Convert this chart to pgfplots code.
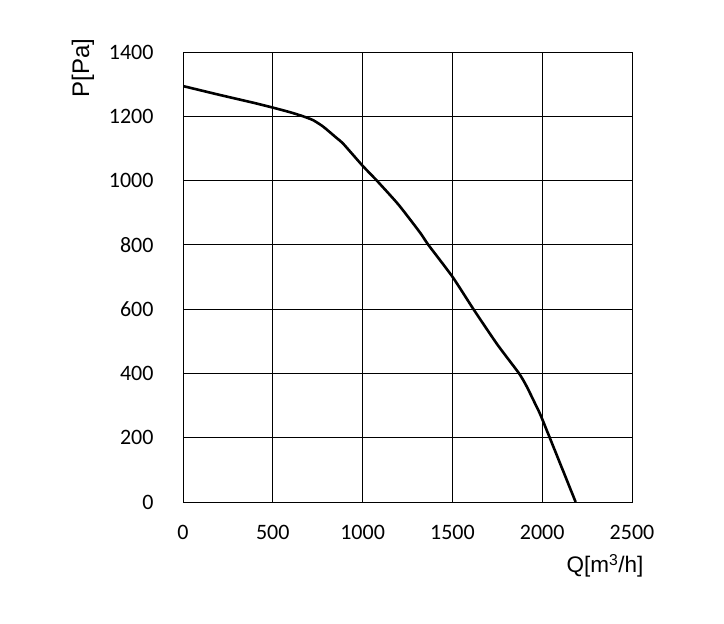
\documentclass[border=0pt]{standalone}
\usepackage{pgfplots}
\pgfplotsset{compat=1.18}
\usepackage{fontspec}
\setmainfont{Carlito}
\newfontfamily\arialfont{Liberation Sans}

\begin{document}
\begin{tikzpicture}[x=1bp,y=1bp]
\path[use as bounding box] (0,0) rectangle (724,624);
\begin{axis}[
  at={(183bp,122bp)},anchor=south west,
  scale only axis,
  width=449bp,height=450bp,
  xmin=0,xmax=2500,ymin=0,ymax=1400,
  xtick={0,500,...,2500},
  ytick={0,200,...,1400},
  major tick length=0pt,
  grid=major,
  major grid style={black,line width=0.9bp},
  axis line style={black,line width=0.9bp},
  /pgf/number format/assume math mode=true,
  /pgf/number format/1000 sep={},
  ticklabel style={font=\fontsize{22bp}{24bp}\selectfont},
  xticklabel style={yshift=-20bp},
  yticklabel style={xshift=-26bp},
  xlabel={Q[m\textsuperscript{3}/h]},
  ylabel={P[Pa]},
  xlabel style={font=\arialfont\fontsize{22.5bp}{26bp}\selectfont,
    at={(axis description cs:0.94,-0.142)},anchor=center},
  ylabel style={font=\arialfont\fontsize{24bp}{26bp}\selectfont,
    at={(axis description cs:-0.223,0.964)},anchor=center,rotate=0},
]
\addplot[black,line width=2.6bp,smooth,tension=0.35] coordinates {
(0,1294) (200,1267) (400,1241) (500,1227) (600,1212) (668,1200)
(724,1188) (780,1168) (850,1135) (893,1114) (1000,1046) (1079,1000)
(1200,925) (1320,838) (1366,800) (1500,701) (1617,600) (1750,490)
(1871,400) (1914,359) (1969,296) (2000,258) (2186,0)
};
\end{axis}
\end{tikzpicture}
\end{document}
